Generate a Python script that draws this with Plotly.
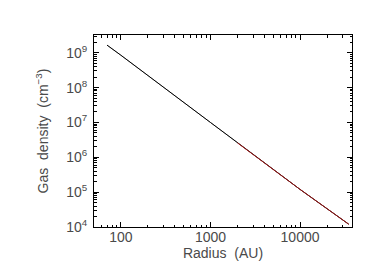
import plotly.graph_objects as go

# values
radius_all = [70, 100, 1000, 10000, 35000]
density_all = [1.66e9, 8.5e8, 1.0e7, 1.2e5, 1.2e4]

radius_fit = [2000, 10000, 35000]
density_fit = [2.6e6, 1.2e5, 1.2e4]

x_ticks = [100, 1000, 10000]
y_exps = [4, 5, 6, 7, 8, 9]
x_minor = [m * 10 ** e for e in range(1, 5) for m in range(2, 10) if 50 <= m * 10 ** e <= 38000]
y_minor = [m * 10 ** e for e in range(4, 10) for m in range(2, 10) if m * 10 ** e <= 3.2e9]

TXT = "#4a4a4a"

fig = go.Figure()
fig.add_trace(go.Scatter(x=radius_all, y=density_all, mode="lines",
                         line=dict(color="black", width=1), showlegend=False))
fig.add_trace(go.Scatter(x=radius_fit, y=density_fit, mode="lines",
                         line=dict(color="#d62020", width=1), showlegend=False))
fig.add_trace(go.Scatter(x=radius_all, y=density_all, mode="lines",
                         line=dict(color="rgba(0,0,0,0.6)", width=0.6), showlegend=False))

axis_common = dict(
    type="log", showgrid=False, zeroline=False, showline=True, linecolor="black",
    linewidth=1, mirror="ticks", ticks="inside", ticklen=5, tickcolor="black",
    tickfont=dict(size=14, color=TXT),
)

fig.update_xaxes(axis_common, range=[1.70, 4.58], tickmode="array", tickvals=x_ticks,
                 ticktext=[str(v) for v in x_ticks], ticklabelstandoff=-3,
                 minor=dict(tickmode="array", tickvals=x_minor, ticks="inside",
                            ticklen=2.5, tickcolor="black", showgrid=False),
                 title=dict(text="Radius\u00a0\u00a0(AU)", font=dict(size=14, color=TXT), standoff=0))
fig.update_yaxes(axis_common, range=[4, 9.51], tickmode="array",
                 tickvals=[10 ** e for e in y_exps],
                 ticktext=["10<sup>%d</sup>" % e for e in y_exps], ticklabelstandoff=3,
                 minor=dict(tickmode="array", tickvals=y_minor, ticks="inside",
                            ticklen=2.5, tickcolor="black", showgrid=False),
                 title=dict(text="Gas\u00a0\u00a0density\u00a0\u00a0(cm<sup>\u22123</sup>)",
                            font=dict(size=14, color=TXT), standoff=14))

fig.update_layout(
    width=370, height=273,
    margin=dict(l=86, r=26, t=27, b=54),
    paper_bgcolor="white", plot_bgcolor="white",
    font=dict(family="Liberation Sans, Arial, sans-serif", size=14, color=TXT),
)

fig.write_html("out.html")
